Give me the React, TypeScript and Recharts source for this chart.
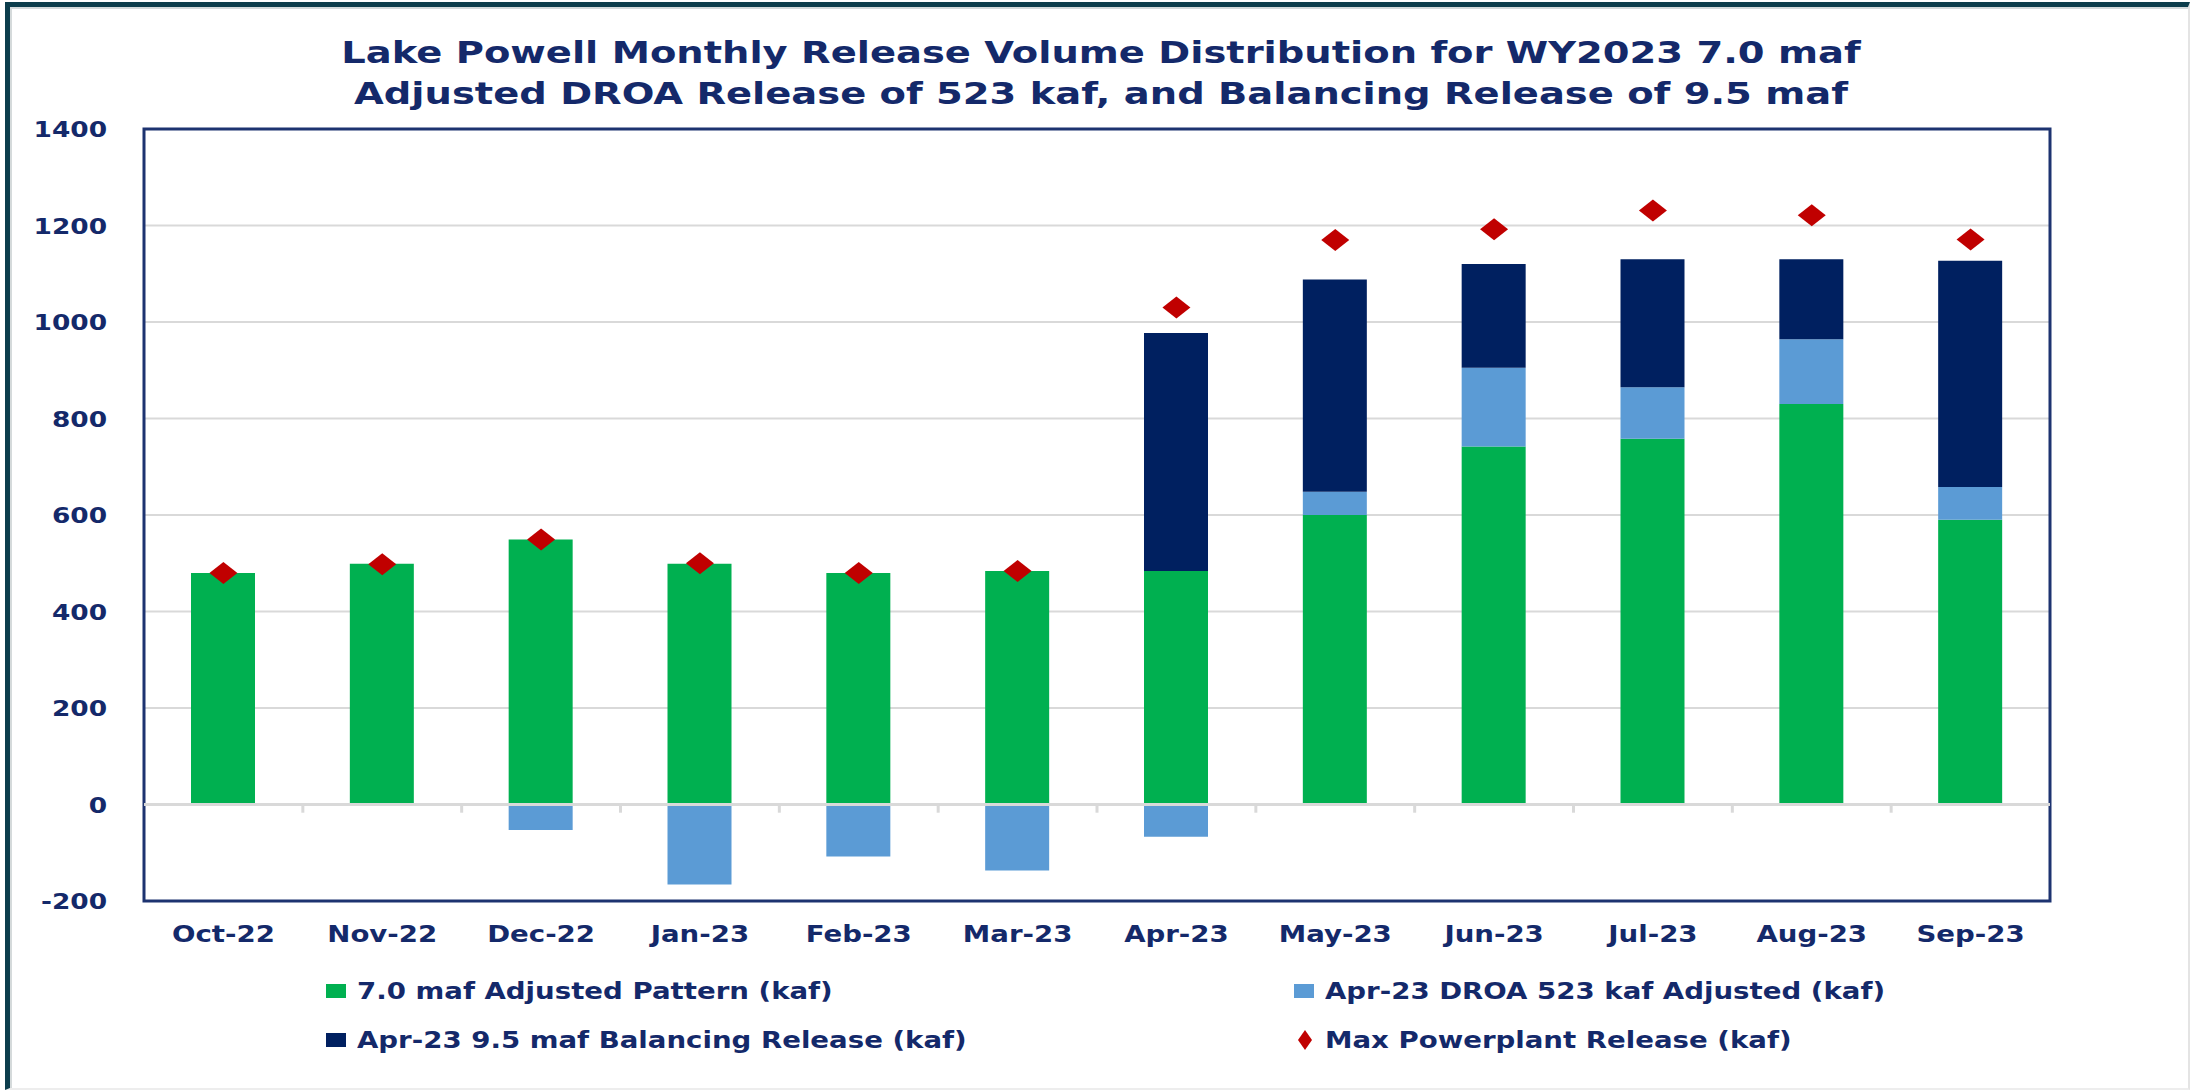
import React from "react";
import {
  Bar,
  CartesianGrid,
  ComposedChart,
  Line,
  ReferenceArea,
  ReferenceLine,
  XAxis,
  YAxis,
} from "recharts";

const MONTHS = ["Oct-22", "Nov-22", "Dec-22", "Jan-23", "Feb-23", "Mar-23", "Apr-23", "May-23", "Jun-23", "Jul-23", "Aug-23", "Sep-23"];
const PATTERN = [480, 499, 549, 499, 480, 484, 484, 600, 742, 758, 830, 590];
const DROA_ADJ = [0, 0, -53, -166, -108, -137, -67, 48, 163, 107, 134, 68];
const BALANCING = [0, 0, 0, 0, 0, 0, 493, 440, 215, 265, 166, 469];
const MAX_POWERPLANT = [480, 498, 549, 500, 480, 484, 1030, 1170, 1192, 1231, 1221, 1171];
const Y_TICKS = [-200, 0, 200, 400, 600, 800, 1000, 1200, 1400];

const SERIES_NAMES = [
  "7.0 maf Adjusted Pattern (kaf)",
  "Apr-23 DROA 523 kaf Adjusted (kaf)",
  "Apr-23 9.5 maf Balancing Release (kaf)",
  "Max Powerplant Release (kaf)",
];

const GREEN = "#00B050";
const LIGHT_BLUE = "#5B9BD5";
const DARK_BLUE = "#002060";
const RED = "#C00000";
const TEXT = "#14296A";
const FRAME = "#1D3370";
const GRID = "#D9D9D9";
const FONT = "'DejaVu Sans', sans-serif";
// the source image is stretched sideways, so text gets a horizontal stretch too
const STRETCH = 1.2;

const W = 2190;
const H = 1090;

const data = MONTHS.map((m, i) => ({
  month: m,
  pattern: PATTERN[i],
  droa: DROA_ADJ[i],
  balancing: BALANCING[i],
  max: MAX_POWERPLANT[i],
}));

function XTick({ x, y, payload }: any) {
  return (
    <text
      transform={`translate(${x},${y + 33}) scale(${STRETCH},1)`}
      textAnchor="middle"
      fill={TEXT}
      fontFamily={FONT}
      fontWeight="bold"
      fontSize={23}
    >
      {payload.value}
    </text>
  );
}

function YTick({ x, y, payload }: any) {
  return (
    <text
      transform={`translate(${x - 29},${y + 8}) scale(${STRETCH},1)`}
      textAnchor="end"
      fill={TEXT}
      fontFamily={FONT}
      fontWeight="bold"
      fontSize={22}
    >
      {payload.value}
    </text>
  );
}

function Diamond(props: any) {
  const { cx, cy } = props;
  if (cx == null || cy == null) return null;
  return (
    <polygon
      points={`${cx},${cy - 11} ${cx + 14},${cy} ${cx},${cy + 11} ${cx - 14},${cy}`}
      fill={RED}
    />
  );
}

// legend entries (columns / rows follow the original layout)
const legendItems = [
  { name: SERIES_NAMES[0], color: GREEN, diamond: false, left: 326, top: 976 },
  { name: SERIES_NAMES[1], color: LIGHT_BLUE, diamond: false, left: 1294, top: 976 },
  { name: SERIES_NAMES[2], color: DARK_BLUE, diamond: false, left: 326, top: 1025 },
  { name: SERIES_NAMES[3], color: RED, diamond: true, left: 1298, top: 1025 },
];

export default function App() {
  return (
    <div style={{ position: "relative", width: W, height: H, background: "#fff", overflow: "hidden", fontFamily: FONT }}>
      <style>{`body{margin:0}`}</style>
      <div
        style={{
          position: "absolute",
          left: 5,
          top: 2,
          width: W - 5 - 2 - 5,
          height: H - 2 - 2 - 5,
          borderLeft: "5px solid #0C3D4C",
          borderTop: "5px solid #0C3D4C",
          borderRight: "2px solid #E4E4E4",
          borderBottom: "2px solid #EDEDED",
          boxShadow: "inset 2px 2px 0 #D5DADB",
        }}
      />
      <div
        style={{
          position: "absolute",
          left: 101,
          width: 2000,
          top: 32,
          textAlign: "center",
          color: TEXT,
          fontSize: 31,
          lineHeight: "41px",
          fontWeight: "bold",
          transform: `scaleX(1.24)`,
          transformOrigin: "50% 0",
        }}
      >
        Lake Powell Monthly Release Volume Distribution for WY2023 7.0 maf
        <br />
        Adjusted DROA Release of 523 kaf, and Balancing Release of 9.5 maf
      </div>
      <div style={{ position: "absolute", left: 0, top: 0 }}>
        <ComposedChart
          width={W}
          height={H}
          data={data}
          stackOffset="sign"
          barSize={64}
          margin={{ top: 129, right: 140, bottom: 129, left: 0 }}
        >
          <CartesianGrid vertical={false} stroke={GRID} strokeWidth={2} />
          <XAxis dataKey="month" axisLine={false} tickLine={false} interval={0} height={60} tick={<XTick />} />
          <YAxis
            domain={[-200, 1400]}
            ticks={Y_TICKS}
            axisLine={false}
            tickLine={false}
            width={144}
            tick={<YTick />}
          />
          <Bar dataKey="pattern" stackId="a" fill={GREEN} isAnimationActive={false} />
          <Bar dataKey="droa" stackId="a" fill={LIGHT_BLUE} isAnimationActive={false} />
          <Bar dataKey="balancing" stackId="a" fill={DARK_BLUE} isAnimationActive={false} />
          <ReferenceLine y={0} stroke={GRID} strokeWidth={3} />
          {MONTHS.slice(0, -1).map((m) => (
            <ReferenceLine
              key={m}
              position="end"
              segment={[
                { x: m, y: 0 },
                { x: m, y: -17 },
              ]}
              stroke={GRID}
              strokeWidth={3}
            />
          ))}
          <ReferenceArea y1={-200} y2={1400} fill="none" stroke={FRAME} strokeWidth={3} ifOverflow="visible" />
          <Line
            dataKey="max"
            stroke="none"
            isAnimationActive={false}
            activeDot={false}
            dot={(p: any) => <Diamond key={`d-${p.index}`} {...p} />}
          />
        </ComposedChart>
      </div>
      {legendItems.map((it) => (
        <div
          key={it.name}
          style={{
            position: "absolute",
            left: it.left,
            top: it.top,
            height: 30,
            display: "flex",
            alignItems: "center",
            color: TEXT,
            fontSize: 23,
            lineHeight: "30px",
            fontWeight: "bold",
            whiteSpace: "nowrap",
          }}
        >
          {it.diamond ? (
            <svg width={14} height={20} style={{ marginRight: 13 }}>
              <polygon points="7,0 14,10 7,20 0,10" fill={it.color} />
            </svg>
          ) : (
            <span style={{ display: "inline-block", width: 20, height: 14, background: it.color, marginRight: 11 }} />
          )}
          <span style={{ display: "inline-block", transform: `scaleX(${STRETCH})`, transformOrigin: "0 50%" }}>
            {it.name}
          </span>
        </div>
      ))}
    </div>
  );
}
